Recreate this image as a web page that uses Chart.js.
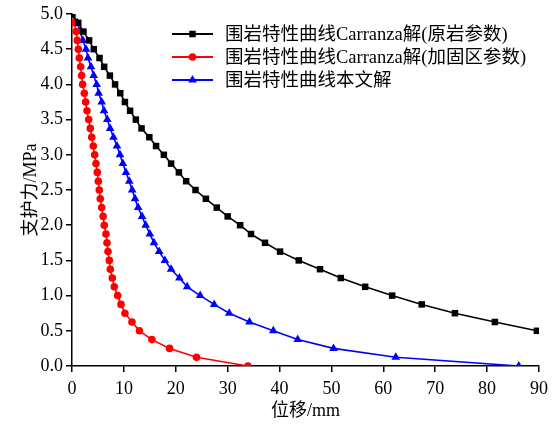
<!DOCTYPE html>
<html>
<head>
<meta charset="utf-8">
<script src="https://cdn.jsdelivr.net/npm/chart.js@4.4.0/dist/chart.umd.min.js"></script>
<style>
html, body { margin: 0; padding: 0; background: #fff; }
#wrap { width: 558px; height: 424px; position: relative; }
</style>
</head>
<body>
<div id="wrap"><canvas id="c" width="558" height="424"></canvas></div>
<script>
// support pressure levels (MPa)
var pLevels = [5.0, 4.875, 4.75, 4.625, 4.5, 4.375, 4.25, 4.125, 4.0, 3.875, 3.75, 3.625,
    3.5, 3.375, 3.25, 3.125, 3.0, 2.875, 2.75, 2.625, 2.5, 2.375, 2.25, 2.125, 2.0,
    1.875, 1.75, 1.625, 1.5, 1.375, 1.25, 1.125, 1.0, 0.875, 0.75, 0.625, 0.5,
    0.375, 0.25, 0.125, 0.0];

// displacement (mm) for each series
var uOrig = [0, 1.2, 2.2, 3.3, 4.2, 5.3, 6.2, 7.3, 8.3, 9.3, 10.2, 11.2,
    12.3, 13.4, 14.9, 16.2, 17.7, 19.1, 20.6, 22.0, 23.8, 25.8, 27.9, 30.0, 32.4,
    34.5, 37.2, 40.1, 43.7, 47.8, 51.8, 56.5, 61.7, 67.4, 73.8, 81.5, 89.6];
var uReinf = [0, 0.5, 0.8, 1.03, 1.22, 1.41, 1.67, 1.86, 2.05, 2.38, 2.63, 2.89,
    3.22, 3.53, 3.8, 4.1, 4.37, 4.62, 4.87, 5.07, 5.26, 5.45, 5.72, 6.0, 6.22,
    6.55, 6.74, 6.94, 7.19, 7.38, 7.77, 8.15, 8.8, 9.44, 10.2, 11.56, 13.0,
    15.4, 18.8, 24.0, 33.9];
var uThis = [0, 1.03, 1.54, 2.12, 2.7, 3.08, 3.66, 4.18, 4.75, 5.14, 5.72, 6.17,
    6.8, 7.35, 8.0, 8.67, 9.25, 9.8, 10.4, 11.05, 11.6, 12.15, 12.75, 13.5, 14.2,
    15.0, 15.8, 16.8, 17.9, 19.1, 20.7, 22.2, 24.7, 27.4, 30.3, 34.2, 38.8,
    43.5, 50.4, 62.4, 86.1];

var seriesNames = ['围岩特性曲线Carranza解(原岩参数)', '围岩特性曲线Carranza解(加固区参数)', '围岩特性曲线本文解'];
var seriesColors = ['#000000', '#ff0000', '#0000ff'];
var seriesMarks = ['rect', 'circle', 'triangle'];

var xTitle = '位移/mm';
var yTitle = '支护力/MPa';

var serif = "'Liberation Serif', 'Times New Roman', 'Noto Sans CJK SC', serif";

function pairs(us) {
    var out = [];
    for (var i = 0; i < us.length; i++) out.push({x: us[i], y: pLevels[i]});
    return out;
}

function makeSet(i, us, r) {
    return {
        label: seriesNames[i],
        data: pairs(us),
        borderColor: seriesColors[i],
        backgroundColor: seriesColors[i],
        borderWidth: 1.6,
        pointStyle: seriesMarks[i],
        pointRadius: r,
        pointHoverRadius: r,
        pointBorderWidth: 0,
        tension: 0
    };
}

// legend drawn inside the plot area, top right
var innerLegend = {
    id: 'innerLegend',
    afterDraw: function(chart) {
        var ctx = chart.ctx;
        var x0 = 172, x1 = 213, tx = 225, y = 34, dy = 23;
        ctx.save();
        ctx.font = '18.5px ' + serif;
        ctx.textBaseline = 'middle';
        ctx.textAlign = 'left';
        chart.data.datasets.forEach(function(ds, i) {
            var yy = y + i * dy;
            ctx.strokeStyle = ds.borderColor;
            ctx.lineWidth = 2;
            ctx.beginPath();
            ctx.moveTo(x0, yy);
            ctx.lineTo(x1, yy);
            ctx.stroke();
            ctx.fillStyle = ds.borderColor;
            Chart.helpers.drawPoint(ctx, {pointStyle: ds.pointStyle, radius: ds.pointRadius, borderWidth: 0}, (x0 + x1) / 2, yy);
            ctx.fillStyle = '#000';
            ctx.fillText(ds.label, tx, yy + 1);
        });
        ctx.restore();
    }
};

new Chart(document.getElementById('c').getContext('2d'), {
    type: 'line',
    data: {
        datasets: [
            makeSet(0, uOrig, 4.6),
            makeSet(1, uReinf, 3.8),
            makeSet(2, uThis, 5)
        ]
    },
    options: {
        responsive: false,
        animation: false,
        layout: {padding: {left: 0, right: 19, top: 14, bottom: 0}},
        plugins: {
            legend: {display: false},
            tooltip: {enabled: false}
        },
        scales: {
            x: {
                type: 'linear',
                min: 0,
                max: 90,
                afterFit: function(s) { s.height = 58; },
                border: {color: '#000', width: 1.5},
                grid: {drawOnChartArea: false, drawTicks: true, tickLength: 6, color: '#000', lineWidth: 1.5},
                ticks: {stepSize: 10, color: '#000', padding: 6, font: {family: serif, size: 18}},
                title: {display: true, text: xTitle, color: '#000', font: {family: serif, size: 18}, padding: {top: 0, bottom: 2}}
            },
            y: {
                type: 'linear',
                min: 0,
                max: 5,
                afterFit: function(s) { s.width = 72; },
                border: {color: '#000', width: 1.5},
                grid: {drawOnChartArea: false, drawTicks: true, tickLength: 6, color: '#000', lineWidth: 1.5},
                ticks: {
                    stepSize: 0.5, color: '#000', padding: 3, font: {family: serif, size: 18},
                    callback: function(v) { return v.toFixed(1); }
                },
                title: {display: true, text: yTitle, color: '#000', font: {family: serif, size: 18}, padding: {top: 20, bottom: 0}}
            }
        }
    },
    plugins: [innerLegend]
});
</script>
</body>
</html>
